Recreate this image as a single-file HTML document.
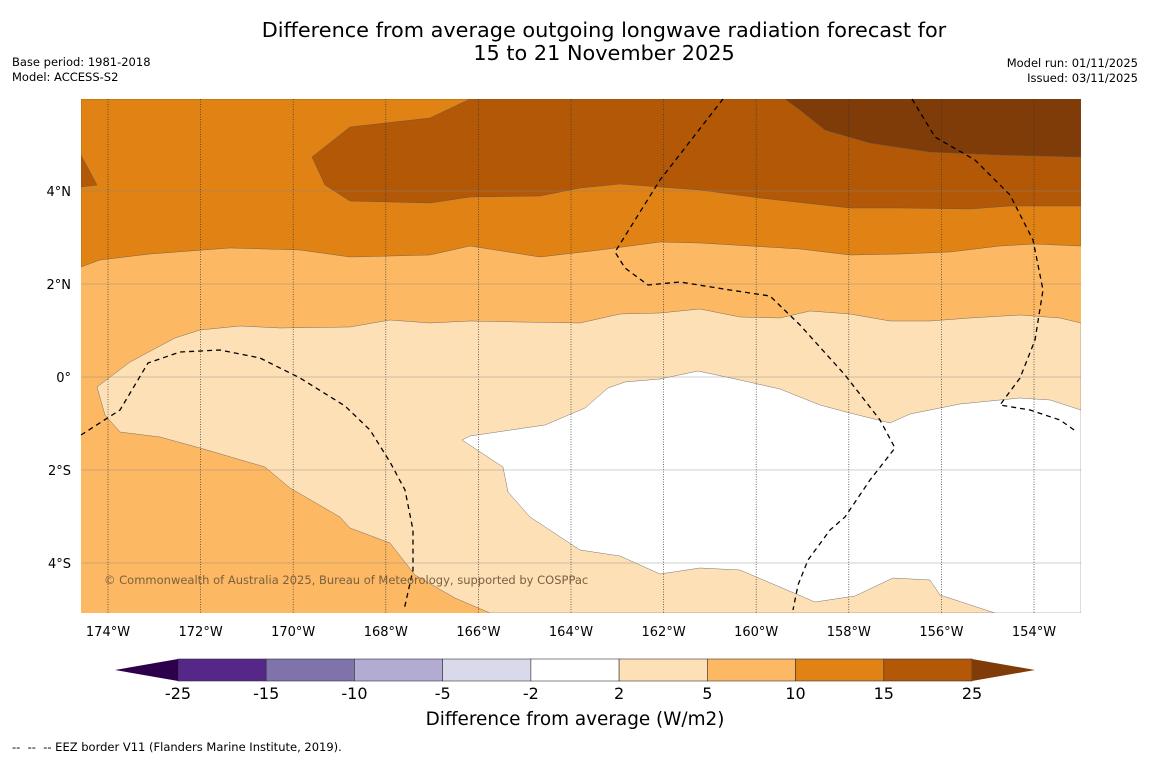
<!DOCTYPE html>
<html><head><meta charset="utf-8"><style>
body{margin:0;background:#fff;font-family:"DejaVu Sans",sans-serif;}
#wrap{position:relative;width:1150px;height:758px;overflow:hidden;background:#fff}
.t{position:absolute;white-space:nowrap}
</style></head><body>
<div id="wrap">
<div class="t" style="left:0;width:1208px;text-align:center;top:19px;font-size:20.8px;line-height:23px;color:#000">Difference from average outgoing longwave radiation forecast for<br>15 to 21 November 2025</div>
<div class="t" style="left:12px;top:55px;font-size:11.5px;line-height:15px">Base period: 1981-2018<br>Model: ACCESS-S2</div>
<div class="t" style="right:12px;top:56px;font-size:11.5px;line-height:15px;text-align:right">Model run: 01/11/2025<br>Issued: 03/11/2025</div>
<svg id="map" width="1150" height="758" style="position:absolute;left:0;top:0;font-family:'DejaVu Sans',sans-serif"></svg>
<div class="t" style="left:0;width:1150px;text-align:center;top:709px;font-size:18.4px">Difference from average (W/m2)</div>
<div class="t" style="left:12px;top:740px;font-size:11.5px">-- &nbsp;-- &nbsp;-- EEZ border V11 (Flanders Marine Institute, 2019).</div>
</div>
<script>
const lonTicks=[-174,-172,-170,-168,-166,-164,-162,-160,-158,-156,-154];
const latTicks=[4,2,0,-2,-4];
const levels=[-25,-15,-10,-5,-2,2,5,10,15,25];
const levelColors=["#542788","#8073ac","#b2abd2","#d8daeb","#ffffff","#fee0b6","#fdb863","#e08214","#b35806"];
// contour outlines (traced in map pixel space)
const band10=[[81,99],[81,267],[100,260],[150,254],[230,248],[300,250],[350,257],[430,255],[470,246],[540,257],[600,250],[660,242],[700,243],[800,249],[850,255],[900,254],[950,252],[1000,246],[1034,244],[1081,246],[1081,99]];
const band15=[[470,99],[430,118],[350,127],[312,157],[325,185],[350,201],[430,203],[470,197],[540,196],[580,188],[620,184],[700,190],[760,198],[850,208],[900,208],[970,209],[1010,206],[1081,206],[1081,99]];
const band15b=[[81,155],[97,185],[81,187]];
const band25=[[785,99],[800,110],[825,130],[870,143],[930,152],[1000,155],[1081,157],[1081,99]];
const band2=[[97,387],[130,362],[175,338],[200,330],[240,326],[280,328],[350,327],[390,320],[430,323],[470,321],[520,322],[580,323],[620,314],[660,313],[700,309],[740,317],[780,318],[810,311],[850,314],[890,321],[930,321],[970,318],[1020,315],[1060,318],[1081,323],[1081,613],[490,613],[455,598],[415,575],[390,543],[350,528],[340,517],[290,488],[265,467],[200,448],[160,437],[120,432],[105,415]];
const bandWhite=[[462,440],[470,436],[545,425],[585,408],[608,388],[625,382],[660,379],[698,371],[740,380],[780,389],[820,405],[850,413],[890,423],[910,414],[960,404],[1020,398],[1050,400],[1081,410],[1081,613],[995,613],[940,595],[930,580],[893,578],[855,596],[815,602],[740,570],[700,568],[660,574],[620,556],[580,550],[530,517],[508,492],[503,467]];
const eez=[
[[81,435],[120,410],[148,363],[180,352],[220,350],[260,358],[300,378],[345,406],[370,430],[390,462],[405,490],[413,530],[413,570],[404,610]],
[[723,99],[660,180],[615,252],[625,268],[648,285],[680,282],[730,290],[770,296],[800,325],[845,375],[880,420],[895,448],[870,480],[845,517],[830,530],[808,560],[798,585],[793,610]],
[[912,99],[935,137],[975,160],[1010,195],[1033,240],[1043,290],[1035,340],[1020,378],[1000,405],[1030,410],[1060,420],[1077,432]]];
const NS="http://www.w3.org/2000/svg";
const svg=document.getElementById('map');
const X0=81,X1=1081,Y0=99,Y1=613;
const xOf=lon=>108+(lon+174)*46.3;
const yOf=lat=>377-lat*46.5;
function el(t,a,p){const e=document.createElementNS(NS,t);for(const k in a)e.setAttribute(k,a[k]);(p||svg).appendChild(e);return e;}
const defs=el('defs',{});const cp=el('clipPath',{id:'mc'},defs);el('rect',{x:X0,y:Y0,width:X1-X0,height:Y1-Y0},cp);
const g=el('g',{'clip-path':'url(#mc)'});
const bg=el('rect',{x:X0,y:Y0,width:X1-X0,height:Y1-Y0,fill:"#fdb863"},g);

function poly(pts,fill,name){const p=el('polygon',{points:pts.map(q=>q.join(',')).join(' '),fill:fill,stroke:"#555","stroke-width":0.4},g);
}
poly(band10,"#e08214","band-10-15");
poly(band15,"#b35806","band-15-25");
poly(band15b,"#b35806","band-15-25-west");
poly(band25,"#7f3b08","band-above-25");
poly(band2,"#fee0b6","band-2-5");
poly(bandWhite,"#ffffff","band-neutral");
lonTicks.forEach(lon=>{const x=xOf(lon);
const l=el('line',{x1:x,x2:x,y1:Y0,y2:Y1,stroke:"#333","stroke-width":0.7,"stroke-dasharray":"1,1.5"});

const t=el('text',{x:x,y:636,"text-anchor":"middle","font-size":13,fill:"#000"});t.textContent=Math.abs(lon)+"°W";
});
latTicks.forEach(lat=>{const y=yOf(lat);
const l=el('line',{x1:X0,x2:X1,y1:y,y2:y,stroke:"#888","stroke-width":0.6,opacity:0.8});

const t=el('text',{x:71,y:y+5,"text-anchor":"end","font-size":13,fill:"#000"});t.textContent=lat==0?"0°":Math.abs(lat)+"°"+(lat>0?"N":"S");
});
eez.forEach(line=>{const p=el('polyline',{points:line.map(q=>q.join(',')).join(' '),fill:"none",stroke:"#000","stroke-width":1.3,"stroke-dasharray":"5,4"});
});
const cr=el('text',{x:104,y:584,"font-size":11.5,fill:"#7a6040"});cr.textContent="© Commonwealth of Australia 2025, Bureau of Meteorology, supported by COSPPac";

const cx0=178,cx1=972,cy=659,ch=22,step=(cx1-cx0)/levelColors.length;
levelColors.forEach((c,i)=>{const r=el('rect',{x:cx0+i*step,y:cy,width:step,height:ch,fill:c,stroke:"#333","stroke-width":0.6});
});
const lt=el('polygon',{points:`${cx0},${cy} ${cx0},${cy+ch} 115,${cy+ch/2}`,fill:"#2d004b"});
const rt=el('polygon',{points:`${cx1},${cy} ${cx1},${cy+ch} 1035,${cy+ch/2}`,fill:"#7f3b08"});
levels.forEach((v,i)=>{const t=el('text',{x:cx0+i*step,y:699,"text-anchor":"middle","font-size":16,fill:"#000"});t.textContent=v;
});
</script>
</body></html>
